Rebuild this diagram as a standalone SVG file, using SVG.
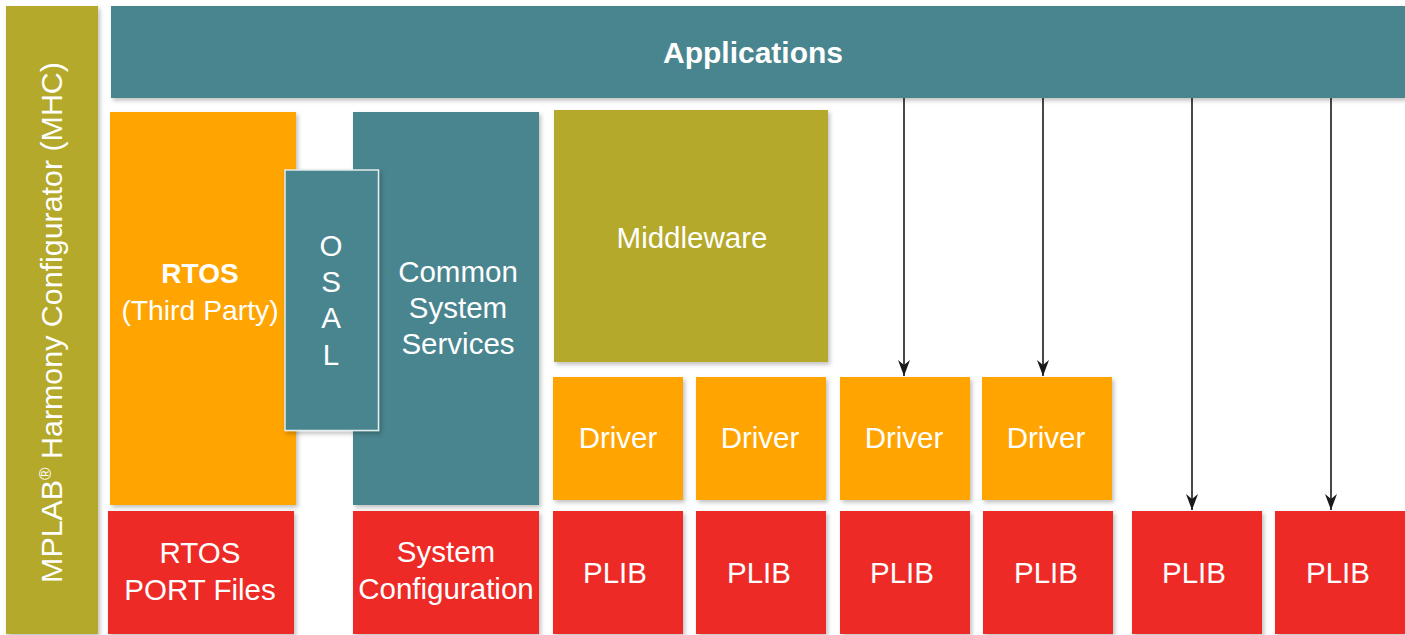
<svg xmlns="http://www.w3.org/2000/svg" width="1405" height="635" viewBox="0 0 1405 635">
<style>
.olive{fill:#B4A92A}
.teal{fill:#4A858F}
.orange{fill:#FFA400}
.red{fill:#EE2A25}
.box{filter:url(#sh)}
text{font-family:"Liberation Sans",Arial,sans-serif;fill:#FFFFFF;text-anchor:middle;font-size:29.5px}
.b{font-weight:bold}
.conn{stroke:#1A1A1A;stroke-width:1.6;fill:none;marker-end:url(#ah)}
</style>
<defs>
<filter id="sh" x="-10%" y="-10%" width="130%" height="130%">
<feDropShadow dx="2" dy="2.5" stdDeviation="2" flood-color="#000000" flood-opacity="0.25"/>
</filter>
<marker id="ah" markerUnits="userSpaceOnUse" markerWidth="16" markerHeight="12" viewBox="0 0 16 12" refX="16" refY="6" orient="auto">
<path d="M0,0 L16,6 L0,12 L5,6 Z" fill="#1A1A1A"/>
</marker>
</defs>
<rect width="1405" height="635" fill="#FFFFFF"/>

<g id="mhc">
<rect class="olive box" x="6" y="6" width="92" height="628"/>
<text transform="translate(62,322.5) rotate(-90)" style="font-size:30.4px">MPLAB<tspan style="font-size:17px" dy="-11">®</tspan><tspan dy="11"> Harmony Configurator (MHC)</tspan></text>
</g>

<g id="applications">
<rect class="teal box" x="111" y="6" width="1294" height="92"/>
<text class="b" x="753" y="63" style="font-size:30px">Applications</text>
</g>

<g id="rtos">
<rect class="orange box" x="110" y="112" width="186" height="393"/>
<text class="b" x="200" y="283" style="font-size:28px">RTOS</text>
<text x="200" y="320" style="font-size:28.3px">(Third Party)</text>
</g>

<g id="css">
<rect class="teal box" x="353" y="112" width="186" height="393"/>
<text x="458" y="282">Common</text>
<text x="458" y="318">System</text>
<text x="458" y="354">Services</text>
</g>

<g id="osal">
<rect class="teal box" x="285" y="170" width="93.5" height="260.5" stroke="#E4ECEC" stroke-width="1.5"/>
<text x="331" y="256">O</text>
<text x="331" y="292">S</text>
<text x="331" y="328">A</text>
<text x="331" y="365">L</text>
</g>

<g id="middleware">
<rect class="olive box" x="554" y="110" width="274" height="252"/>
<text x="692" y="248">Middleware</text>
</g>

<g id="driver1">
<rect class="orange box" x="553" y="377" width="130" height="123"/>
<text x="618" y="448">Driver</text>
</g>
<g id="driver2">
<rect class="orange box" x="696" y="377" width="130" height="123"/>
<text x="760" y="448">Driver</text>
</g>
<g id="driver3">
<rect class="orange box" x="840" y="377" width="130" height="123"/>
<text x="904" y="448">Driver</text>
</g>
<g id="driver4">
<rect class="orange box" x="982" y="377" width="130" height="123"/>
<text x="1046" y="448">Driver</text>
</g>

<g id="rtos-port">
<rect class="red box" x="108" y="511" width="186" height="123"/>
<text x="200" y="563">RTOS</text>
<text x="200" y="600">PORT Files</text>
</g>

<g id="sysconfig">
<rect class="red box" x="353" y="511" width="186" height="123"/>
<text x="446" y="562">System</text>
<text x="446" y="599">Configuration</text>
</g>

<g id="plib1">
<rect class="red box" x="553" y="511" width="130" height="123"/>
<text x="615" y="583">PLIB</text>
</g>
<g id="plib2">
<rect class="red box" x="696" y="511" width="130" height="123"/>
<text x="759" y="583">PLIB</text>
</g>
<g id="plib3">
<rect class="red box" x="840" y="511" width="130" height="123"/>
<text x="902" y="583">PLIB</text>
</g>
<g id="plib4">
<rect class="red box" x="983" y="511" width="130" height="123"/>
<text x="1046" y="583">PLIB</text>
</g>
<g id="plib5">
<rect class="red box" x="1132" y="511" width="130" height="123"/>
<text x="1194" y="583">PLIB</text>
</g>
<g id="plib6">
<rect class="red box" x="1275" y="511" width="130" height="123"/>
<text x="1338" y="583">PLIB</text>
</g>

<g id="connectors">
<line class="conn" x1="904" y1="98" x2="904" y2="376"/>
<line class="conn" x1="1043" y1="98" x2="1043" y2="376"/>
<line class="conn" x1="1192" y1="98" x2="1192" y2="510"/>
<line class="conn" x1="1331" y1="98" x2="1331" y2="510"/>
</g>
</svg>
